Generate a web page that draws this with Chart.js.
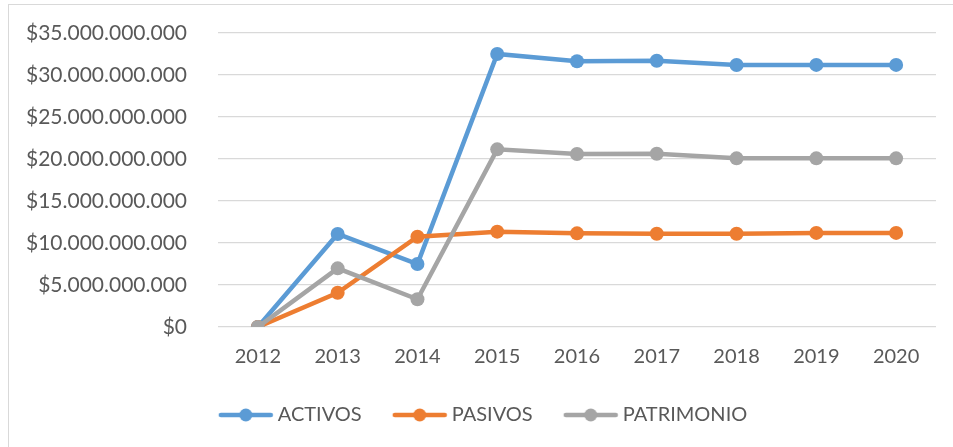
<!DOCTYPE html>
<html>
<head>
<meta charset="utf-8">
<script src="https://cdn.jsdelivr.net/npm/chart.js@4.4.0/dist/chart.umd.min.js"></script>
<style>
  html, body { margin: 0; padding: 0; background: #fff; overflow: hidden; }
  #wrap { position: relative; width: 953px; height: 447px; }
  #frame { position: absolute; left: 8px; top: 4px; width: 1000px; height: 500px; border: 1px solid #D9D9D9; box-sizing: border-box; }
  canvas { position: absolute; left: 0; top: 0; }
</style>
</head>
<body>
<div id="wrap">
  <div id="frame"></div>
  <canvas id="lineChart" width="953" height="447"></canvas>
</div>
<script>
// years on the x axis
const years = ['2012', '2013', '2014', '2015', '2016', '2017', '2018', '2019', '2020'];
// values (pesos)
const activos = [0, 11070000000, 7500000000, 32500000000, 31630000000, 31700000000, 31190000000, 31200000000, 31200000000];
const pasivos = [0, 4080000000, 10750000000, 11350000000, 11150000000, 11100000000, 11100000000, 11200000000, 11200000000];
const patrimonio = [0, 6980000000, 3300000000, 21150000000, 20600000000, 20630000000, 20080000000, 20080000000, 20080000000];
const seriesNames = ['ACTIVOS', 'PASIVOS', 'PATRIMONIO'];
const colors = ['#5B9BD5', '#ED7D31', '#A5A5A5'];
const yMax = 35000000000;
const yStep = 5000000000;

// little line+dot picture used for each legend entry
// (blank strip on the left so the gaps between entries come out wider)
function legendMarker(color) {
    const c = document.createElement('canvas');
    const left = 26;
    c.width = 56 + left;
    c.height = 16;
    const g = c.getContext('2d');
    g.strokeStyle = color;
    g.lineWidth = 4.5;
    g.lineCap = 'round';
    g.beginPath();
    g.moveTo(left + 3, 8);
    g.lineTo(left + 53, 8);
    g.stroke();
    g.fillStyle = color;
    g.beginPath();
    g.arc(left + 28, 8, 6.5, 0, Math.PI * 2);
    g.fill();
    return c;
}

function money(v) {
    return '$' + Math.round(v).toString().replace(/\B(?=(\d{3})+(?!\d))/g, '.');
}

const values = [activos, pasivos, patrimonio];
const datasets = seriesNames.map((name, i) => ({
    label: name,
    data: values[i],
    borderColor: colors[i],
    backgroundColor: colors[i],
    borderWidth: 4.5,
    pointRadius: 7,
    pointHoverRadius: 7,
    pointBorderWidth: 0,
    pointStyle: 'circle',
    tension: 0,
    order: seriesNames.length - i   // later series drawn on top, like the original
}));

Chart.defaults.font.family = 'Lato, "Open Sans", sans-serif';
Chart.defaults.color = '#595959';

const markers = colors.map(legendMarker);

var ctx = document.getElementById('lineChart').getContext('2d');
var myLineChart = new Chart(ctx, {
    type: 'line',
    data: { labels: years, datasets: datasets },
    options: {
        responsive: false,
        animation: false,
        layout: { padding: { left: 9, right: 17, top: 33, bottom: 12 } },
        plugins: {
            tooltip: { enabled: false },
            legend: {
                position: 'bottom',
                labels: {
                    usePointStyle: true,
                    pointStyleWidth: 70,
                    padding: 10,
                    color: '#595959',
                    font: { size: 20 },
                    generateLabels: chart => chart.data.datasets.map((ds, i) => ({
                        text: ds.label,
                        fillStyle: ds.borderColor,
                        strokeStyle: ds.borderColor,
                        lineWidth: 0,
                        pointStyle: markers[i],
                        hidden: false,
                        datasetIndex: i,
                        fontColor: '#595959'
                    }))
                }
            }
        },
        scales: {
            x: {
                offset: true,
                grid: { display: false, drawTicks: false },
                border: { display: false },
                ticks: { padding: 18, font: { size: 20 }, color: '#595959' },
                afterFit: s => { s.height = 68; }
            },
            y: {
                min: 0,
                max: yMax,
                // invisible tick marks push the labels away from the plot
                grid: { color: '#D9D9D9', lineWidth: 1.3, drawTicks: true, tickLength: 28, tickColor: 'rgba(0,0,0,0)' },
                border: { display: false },
                ticks: {
                    stepSize: yStep,
                    padding: 3,
                    font: { size: 21 },
                    color: '#595959',
                    callback: v => money(v)
                },
                afterFit: s => { s.width = 209; }
            }
        }
    }
});
</script>
</body>
</html>
